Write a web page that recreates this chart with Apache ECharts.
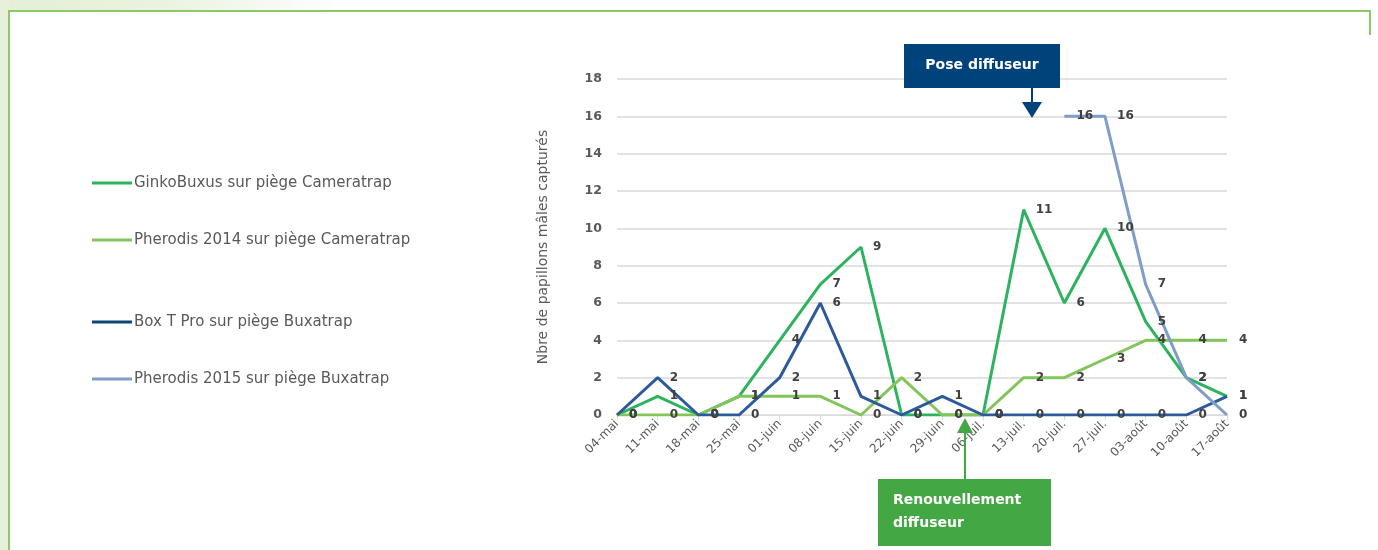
<!DOCTYPE html>
<html>
<head>
<meta charset="utf-8">
<script src="https://cdn.jsdelivr.net/npm/echarts@6/dist/echarts.min.js"></script>
<style>
  html, body { margin: 0; padding: 0; background: #fff; }
  #chart { width: 1378px; height: 550px; }
</style>
</head>
<body>
<div id="chart"></div>
<script>
// semaines de relevé
var weeks = ["04-mai", "11-mai", "18-mai", "25-mai", "01-juin", "08-juin", "15-juin", "22-juin",
    "29-juin", "06-juil.", "13-juil.", "20-juil.", "27-juil.", "03-août", "10-août", "17-août"];

var ginkoCamera = [0, 1, 0, 1, 4, 7, 9, 0, 0, 0, 11, 6, 10, 5, 2, 1];
var pherodis14Camera = [0, 0, 0, 1, 1, 1, 0, 2, 0, 0, 2, 2, 3, 4, 4, 4];
var boxTBuxa = [0, 2, 0, 0, 2, 6, 1, 0, 1, 0, 0, 0, 0, 0, 0, 1];
var pherodis15Buxa = [null, null, null, null, null, null, null, null, null, null, null, 16, 16, 7, 2, 0];

var yTicks = { min: 0, max: 18, step: 2 };

var names = [
    "GinkoBuxus sur piège Cameratrap",
    "Pherodis 2014 sur piège Cameratrap",
    "Box T Pro sur piège Buxatrap",
    "Pherodis 2015 sur piège Buxatrap",
];
var colors = ["#2db35d", "#82c55b", "#2c5a9c", "#7f9dc8"];

var font = "'DejaVu Sans', 'Open Sans', sans-serif";

function lineSerie(i, data) {
    return {
        name: names[i],
        type: "line",
        data: data,
        symbol: "circle",
        symbolSize: 0.1,
        showSymbol: true,
        lineStyle: { width: 3, color: colors[i] },
        itemStyle: { color: colors[i] },
        label: {
            show: true,
            position: "right",
            distance: 12,
            fontSize: 12,
            fontWeight: "bold",
            color: "#404040",
            fontFamily: font,
        },
        emphasis: { disabled: true },
        animation: false,
    };
}

var chart = echarts.init(document.getElementById("chart"));

var legendCommon = {
    orient: "vertical",
    left: 92,
    padding: 0,
    itemWidth: 40,
    itemHeight: 3,
    itemGap: 41,
    icon: "rect",
    selectedMode: false,
    textStyle: { fontSize: 15, color: "#595959", fontFamily: font, lineHeight: 16, padding: [0, 0, 0, -3] },
};

chart.setOption({
    backgroundColor: "#fff",
    animation: false,
    grid: { left: 617, right: 151, top: 79, bottom: 135 },
    legend: [
        Object.assign({}, legendCommon, { top: 175, data: [names[0], names[1]] }),
        Object.assign({}, legendCommon, {
            top: 314,
            data: [
                { name: names[2], itemStyle: { color: "#0d4677" } },
                names[3],
            ],
        }),
    ],
    xAxis: {
        type: "category",
        data: weeks,
        boundaryGap: false,
        axisLine: { lineStyle: { color: "#d9d9d9", width: 1 } },
        axisTick: { show: true, length: 5, lineStyle: { color: "#d9d9d9" } },
        axisLabel: {
            rotate: 45,
            fontSize: 12,
            color: "#595959",
            fontFamily: font,
            margin: 7,
            interval: 0,
        },
    },
    yAxis: {
        type: "value",
        min: yTicks.min,
        max: yTicks.max,
        interval: yTicks.step,
        name: "Nbre de papillons mâles capturés",
        nameLocation: "middle",
        nameGap: 67,
        nameTextStyle: { fontSize: 14, color: "#595959", fontFamily: font },
        axisLine: { show: false },
        axisTick: { show: false },
        axisLabel: { fontSize: 12.5, fontWeight: "bold", color: "#595959", fontFamily: font, margin: 15, align: "right" },
        splitLine: { lineStyle: { color: "#d9d9d9", width: 1.5 } },
    },
    series: [
        lineSerie(0, ginkoCamera),
        lineSerie(1, pherodis14Camera),
        lineSerie(2, boxTBuxa),
        lineSerie(3, pherodis15Buxa),
    ],
    graphic: [
        // cadre vert
        {
            type: "rect", z: -10, silent: true,
            shape: { x: 0, y: 0, width: 1378, height: 11 },
            style: { fill: new echarts.graphic.LinearGradient(0, 0, 1, 0, [
                { offset: 0, color: "#e3efd6" }, { offset: 0.12, color: "#eaf3e0" }, { offset: 0.25, color: "#ffffff" }]) },
        },
        {
            type: "rect", z: -10, silent: true,
            shape: { x: 0, y: 0, width: 9, height: 550 },
            style: { fill: "#e6f0da" },
        },
        {
            type: "polyline", silent: true,
            shape: { points: [[9, 550], [9, 11], [1370, 11], [1370, 35]] },
            style: { stroke: "#8cc864", lineWidth: 2, fill: null },
        },
        // Pose diffuseur
        {
            type: "group", z: 100,
            children: [
                {
                    type: "rect", silent: true, z: 100,
                    shape: { x: 904, y: 44, width: 156, height: 44 },
                    style: { fill: "#00437a" },
                },
                {
                    type: "text", silent: true, z: 101,
                    x: 982, y: 65,
                    style: { text: "Pose diffuseur", fill: "#fff", font: "bold 14px " + font, align: "center", verticalAlign: "middle" },
                },
                {
                    type: "line", silent: true, z: 100,
                    shape: { x1: 1032, y1: 88, x2: 1032, y2: 104 },
                    style: { stroke: "#00437a", lineWidth: 2 },
                },
                {
                    type: "polygon", silent: true, z: 100,
                    shape: { points: [[1022, 102], [1042, 102], [1032, 118]] },
                    style: { fill: "#00437a" },
                },
            ],
        },
        // Renouvellement diffuseur
        {
            type: "group", z: 100,
            children: [
                {
                    type: "rect", silent: true, z: 100,
                    shape: { x: 878, y: 479, width: 173, height: 67 },
                    style: { fill: "#43a843" },
                },
                {
                    type: "text", silent: true, z: 101,
                    x: 893, y: 500,
                    style: { text: "Renouvellement", fill: "#fff", font: "bold 14px " + font, verticalAlign: "middle" },
                },
                {
                    type: "text", silent: true, z: 101,
                    x: 893, y: 523,
                    style: { text: "diffuseur", fill: "#fff", font: "bold 14px " + font, verticalAlign: "middle" },
                },
                {
                    type: "line", silent: true, z: 100,
                    shape: { x1: 965, y1: 430, x2: 965, y2: 479 },
                    style: { stroke: "#43a843", lineWidth: 2 },
                },
                {
                    type: "polygon", silent: true, z: 100,
                    shape: { points: [[957, 433], [973, 433], [965, 418]] },
                    style: { fill: "#43a843" },
                },
            ],
        },
    ],
});
</script>
</body>
</html>
